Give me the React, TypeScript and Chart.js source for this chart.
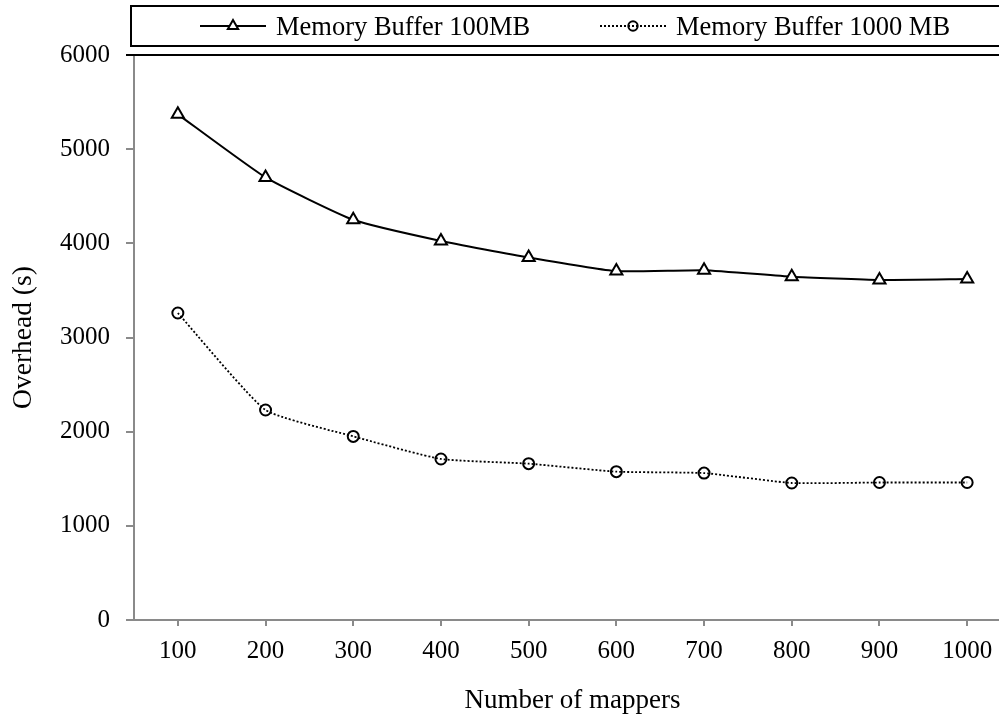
import React, { useEffect, useRef } from 'react';
import { Chart, registerables } from 'chart.js';

Chart.register(...registerables);

const mappers = ['100', '200', '300', '400', '500', '600', '700', '800', '900', '1000'];
const buffer100MB = [5370, 4700, 4250, 4025, 3850, 3705, 3715, 3645, 3610, 3620];
const buffer1000MB = [3260, 2230, 1950, 1710, 1660, 1575, 1560, 1455, 1460, 1460];
const seriesLabels = ['Memory Buffer 100MB', 'Memory Buffer 1000 MB'];
const yTickLabels = ['0', '1000', '2000', '3000', '4000', '5000', '6000'];
const xTitle = 'Number of mappers';
const yTitle = 'Overhead (s)';

const FONT = "'Liberation Serif', 'Times New Roman', serif";
const AXIS_GRAY = '#8a8a8a';

const legendBoxPlugin = {
  id: 'legendBox',
  afterDraw(chart: any) {
    const ctx = chart.ctx as CanvasRenderingContext2D;
    const top = chart.chartArea.top;
    ctx.save();
    ctx.strokeStyle = '#000';
    ctx.lineWidth = 2;
    ctx.strokeRect(131, 6, chart.width, 40);
    ctx.beginPath();
    ctx.moveTo(126, top);
    ctx.lineTo(chart.width, top);
    ctx.stroke();

    const slots = [
      { x0: 200, x1: 266, tx: 276 },
      { x0: 600, x1: 666, tx: 676 },
    ];
    const cy = 26;
    chart.data.datasets.forEach((ds: any, i: number) => {
      const s = slots[i];
      if (!s) return;
      ctx.save();
      ctx.strokeStyle = ds.borderColor;
      ctx.lineWidth = ds.borderWidth;
      ctx.setLineDash(ds.borderDash || []);
      ctx.beginPath();
      ctx.moveTo(s.x0, cy);
      ctx.lineTo(s.x1, cy);
      ctx.stroke();
      ctx.setLineDash([]);
      const mx = (s.x0 + s.x1) / 2;
      const r = ds.pointRadius;
      ctx.lineWidth = ds.pointBorderWidth;
      ctx.strokeStyle = ds.pointBorderColor;
      ctx.fillStyle = ds.pointBackgroundColor;
      ctx.beginPath();
      if (ds.pointStyle === 'triangle') {
        const rr = r * 0.85;
        for (let k = 0; k < 3; k++) {
          const a = (k * 2 * Math.PI) / 3;
          const px = mx + Math.sin(a) * rr;
          const py = cy - Math.cos(a) * rr;
          if (k === 0) ctx.moveTo(px, py);
          else ctx.lineTo(px, py);
        }
        ctx.closePath();
      } else {
        ctx.arc(mx, cy, r * 0.85, 0, Math.PI * 2);
      }
      ctx.fill();
      ctx.stroke();
      ctx.fillStyle = '#000';
      ctx.font = `26.5px ${FONT}`;
      ctx.textAlign = 'left';
      ctx.textBaseline = 'alphabetic';
      ctx.fillText(ds.label, s.tx, 35);
      ctx.restore();
    });
    ctx.restore();
  },
};

export default function App() {
  const canvasRef = useRef<HTMLCanvasElement | null>(null);

  useEffect(() => {
    const canvas = canvasRef.current;
    if (!canvas) return;
    const chart = new Chart(canvas, {
      type: 'line',
      data: {
        labels: mappers,
        datasets: [
          {
            label: seriesLabels[0],
            data: buffer100MB,
            borderColor: '#000',
            borderWidth: 2,
            pointStyle: 'triangle',
            pointRadius: 7,
            pointBorderWidth: 2,
            pointBackgroundColor: '#fff',
            pointBorderColor: '#000',
            tension: 0.15,
          },
          {
            label: seriesLabels[1],
            data: buffer1000MB,
            borderColor: '#000',
            borderWidth: 1.8,
            borderDash: [2, 2],
            pointStyle: 'circle',
            pointRadius: 5.5,
            pointBorderWidth: 2,
            pointBackgroundColor: 'rgba(255,255,255,0)',
            pointBorderColor: '#000',
            tension: 0.15,
          },
        ] as any,
      },
      options: {
        responsive: false,
        animation: false,
        devicePixelRatio: 1,
        layout: { padding: { top: 55, left: 0, right: 2, bottom: 0 } },
        plugins: { legend: { display: false }, tooltip: { enabled: false } },
        scales: {
          x: {
            type: 'category',
            offset: true,
            grid: {
              display: true,
              drawOnChartArea: false,
              offset: false,
              tickLength: 6,
              color: AXIS_GRAY,
              lineWidth: 2,
            },
            border: { color: AXIS_GRAY, width: 2 },
            ticks: {
              color: '#000',
              font: { family: FONT, size: 25 },
              padding: 10,
              maxRotation: 0,
              autoSkip: false,
            },
            title: {
              display: true,
              text: xTitle,
              color: '#000',
              font: { family: FONT, size: 27 },
              padding: { top: 0, bottom: 0 },
            },
            afterFit(s: any) {
              s.height = 97;
            },
          },
          y: {
            min: 0,
            max: 6000,
            ticks: {
              stepSize: 1000,
              color: '#000',
              font: { family: FONT, size: 25 },
              padding: 16,
              callback: (_v: any, i: number) => yTickLabels[i],
            },
            grid: {
              drawOnChartArea: false,
              tickLength: 8,
              color: AXIS_GRAY,
              lineWidth: 2,
            },
            border: { color: AXIS_GRAY, width: 2 },
            title: {
              display: true,
              text: yTitle,
              color: '#000',
              font: { family: FONT, size: 27.5 },
              padding: { top: 7, bottom: 0 },
            },
            afterFit(s: any) {
              s.width = 134;
            },
          },
        },
      } as any,
      plugins: [legendBoxPlugin],
    });
    return () => chart.destroy();
  }, []);

  return (
    <div
      style={{
        position: 'fixed',
        left: 0,
        top: 0,
        width: 999,
        height: 717,
        overflow: 'hidden',
        background: '#fff',
      }}
    >
      <canvas
        ref={canvasRef}
        width={1020}
        height={717}
        style={{ display: 'block', width: 1020, height: 717 }}
      />
    </div>
  );
}
